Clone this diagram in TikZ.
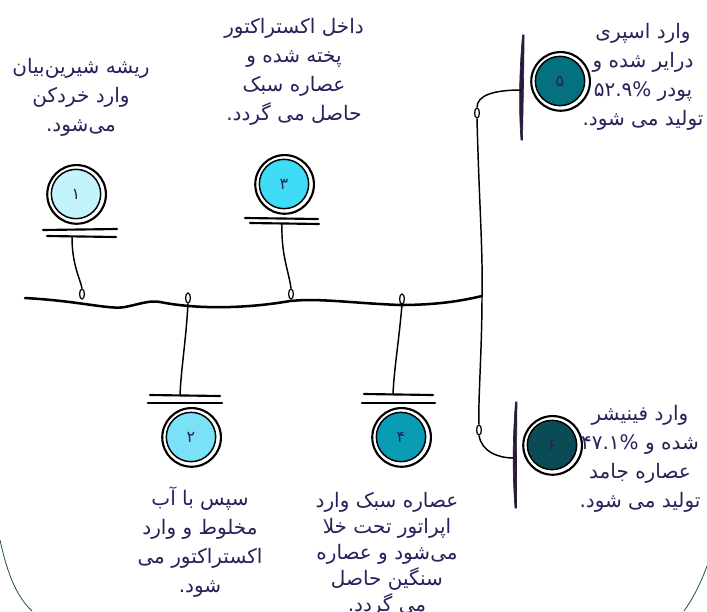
\documentclass[tikz,border=0pt]{standalone}
\usepackage{fontspec}
\usetikzlibrary{shapes.geometric}
\TeXXeTstate=1
\newfontfamily\fa[Script=Arabic]{DejaVu Sans}
\newcommand\rl[1]{\beginR #1\endR}
\definecolor{ink}{HTML}{26235A}
\definecolor{barink}{HTML}{2A1B3D}
\definecolor{frameg}{HTML}{234F44}
\definecolor{fa1}{HTML}{C3F4FC}
\definecolor{fa2}{HTML}{7BE1F7}
\definecolor{fa3}{HTML}{3EDCF7}
\definecolor{fa4}{HTML}{0A9CB4}
\definecolor{fa5}{HTML}{05707F}
\definecolor{fa6}{HTML}{0B4B55}
\begin{document}
\begin{tikzpicture}[x=0.75pt,y=-0.75pt,
  stepcirc/.style={circle, draw=black, line width=1.1pt, minimum size=37pt, inner sep=0pt,
    font=\fa\fontsize{12}{14}\selectfont, text=ink},
  ringline/.style={line width=1.6pt},
  barline/.style={line width=1.6pt, line cap=round},
  conn/.style={line width=1.1pt},
  spine/.style={line width=1.9pt, line cap=round},
  knot/.style={ellipse, draw, line width=0.9pt, minimum width=3.6pt, minimum height=7.5pt, inner sep=0pt},
  vbar/.style={fill=barink, draw=barink, line width=0.5pt},
  caption/.style={align=center, text=ink, font=\fa\fontsize{15}{21.75}\selectfont},
  frame/.style={draw=frameg, line width=0.6pt}]
\useasboundingbox[fill=white] (0,0) rectangle (707,611);

% corner frame
\draw[frame] (0,540) .. controls (8,577) and (18,598) .. (32,611);
\draw[frame] (707,566) .. controls (700,585) and (692,600) .. (684,611);

% circles
\node[stepcirc, fill=fa1] (c1) at (76,194) {۱};
\node[stepcirc, fill=fa3] (c3) at (284,184) {۳};
\node[stepcirc, fill=fa2] (c2) at (191,437) {۲};
\node[stepcirc, fill=fa4] (c4) at (401,437) {۴};
\node[stepcirc, fill=fa5] (c5) at (560,81) {۵};
\node[stepcirc, fill=fa6] (c6) at (552,445) {۶};
\foreach \c in {c1,c2,c3,c4,c5,c6}{
  \draw[ringline] ([shift={(0.6,0.4)}]\c.center) circle[radius=22pt];
}

% bars
\draw[barline] (43,230) -- (117,229);
\draw[barline] (47,236) -- (116,237);
\draw[barline] (245,218) -- (318,219);
\draw[barline] (250,223) -- (319,224);
\draw[barline] (150,395) -- (220,396);
\draw[barline] (148,403) -- (222,403);
\draw[barline] (364,394) -- (433,395);
\draw[barline] (362,403) -- (435,403);
\draw[vbar] (522.5,35) .. controls (519.5,70) and (518.5,105) .. (521,140) -- (522.5,140)
   .. controls (523,105) and (524,70) .. (524,35) -- cycle;
\draw[vbar] (515.5,402) .. controls (512.5,440) and (512.5,475) .. (515,508) -- (516.5,508)
   .. controls (516.5,475) and (516.5,440) .. (517,402) -- cycle;

% bar anchors
\coordinate (b1) at (72,237);
\coordinate (b3) at (282,224);
\coordinate (b2) at (180,395);
\coordinate (b4) at (393,394);
\coordinate (b5) at (521,90);
\coordinate (b6) at (514,458);

% spine
\coordinate (s0) at (25,298);
\coordinate (jn) at (482,296);
\draw[spine] (s0) .. controls (80,301) and (110,310) .. (125,307)
  .. controls (140,304) and (150,300) .. (160,302)
  .. controls (200,310) and (250,308) .. (290,301)
  .. controls (320,298) and (350,303) .. (400,305)
  .. controls (440,305) and (465,300) .. (jn);

% knots
\node[knot] (l1) at (82,294) {};
\node[knot] (l2) at (188,298) {};
\node[knot] (l3) at (291,294) {};
\node[knot] (l4) at (402,299) {};
\node[knot] (l5) at (477,113) {};
\node[knot] (l6) at (479,430) {};

% connectors
\draw[conn] (b1) .. controls (72,265) and (80,278) .. (l1.north);
\draw[conn] (b3) .. controls (281,255) and (289,272) .. (l3.north);
\draw[conn] (l2.south) .. controls (186,340) and (181,370) .. (b2);
\draw[conn] (l4.south) .. controls (399,340) and (394,370) .. (b4);
\draw[conn] (l5.south) .. controls (479,200) and (483,250) .. (jn)
  .. controls (482,350) and (478,400) .. (l6.north);
\draw[conn] (l5.north) .. controls (477,96) and (492,90) .. (b5);
\draw[conn] (l6.south) .. controls (482,452) and (498,458) .. (b6);

% captions
\node[caption] (t1) at (81,97) {\rl{ریشه شیرین‌بیان}\\\rl{وارد خردکن}\\\rl{می‌شود.}};
\node[caption] (t3) at (294,72) {\rl{داخل اکستراکتور}\\\rl{پخته شده و}\\\rl{عصاره سبک}\\\rl{حاصل می گردد.}};
\node[caption] (t5) at (643,77) {\rl{وارد اسپری}\\\rl{درایر شده و}\\\rl{پودر ۵۲.۹\%}\\\rl{تولید می شود.}};
\node[caption] (t6) at (640,459) {\rl{وارد فینیشر}\\\rl{شده و ۴۷.۱\%}\\\rl{عصاره جامد}\\\rl{تولید می شود.}};
\node[caption] (t2) at (200,542) {\rl{سپس با آب}\\\rl{مخلوط و وارد}\\\rl{اکستراکتور می}\\\rl{شود.}};
\node[caption, font=\fa\fontsize{15}{19.5}\selectfont] (t4) at (387,554) {\rl{عصاره سبک وارد}\\\rl{اپراتور تحت خلا}\\\rl{می‌شود و عصاره}\\\rl{سنگین حاصل}\\\rl{می گردد.}};
\end{tikzpicture}
\end{document}
